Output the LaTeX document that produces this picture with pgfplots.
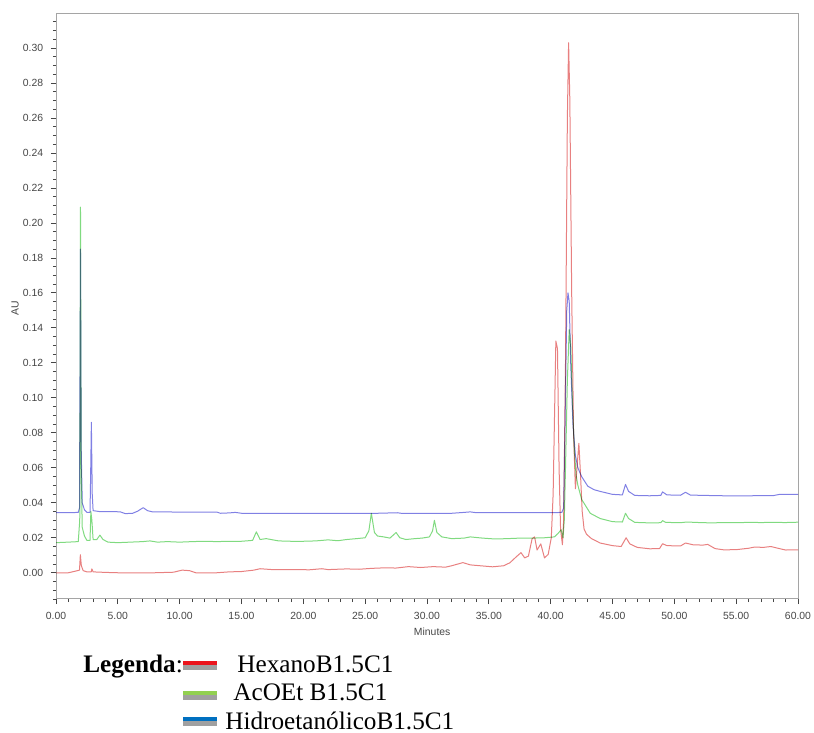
\documentclass[border=0pt]{standalone}
\usepackage{fontspec}
\setmainfont{Liberation Serif}
\newfontfamily\axisfont{Liberation Sans}
\usepackage{pgfplots}
\pgfplotsset{compat=1.18}

\definecolor{trHex}{RGB}{232,128,128}
\definecolor{trAce}{RGB}{128,218,128}
\definecolor{trHid}{RGB}{128,128,228}
\definecolor{legRed}{RGB}{235,20,28}
\definecolor{legGreen}{RGB}{146,208,80}
\definecolor{legBlue}{RGB}{0,112,192}
\definecolor{legGray}{RGB}{160,160,160}
\definecolor{frame}{RGB}{165,165,165}
\definecolor{ticktext}{RGB}{70,70,70}

\begin{document}
\begin{tikzpicture}
\useasboundingbox (0,0) rectangle (407pt,366.5pt);
\begin{axis}[
  at={(28pt,67pt)}, anchor=south west,
  scale only axis, width=371pt, height=292.5pt,
  xmin=0, xmax=60, ymin=-0.015, ymax=0.3194,
  xtick={0,5,10,15,20,25,30,35,40,45,50,55,60},
  ytick={0,0.02,0.04,0.06,0.08,0.10,0.12,0.14,0.16,0.18,0.20,0.22,0.24,0.26,0.28,0.30},
  minor xtick={0,1,...,60},
  minor ytick={-0.015,-0.01,...,0.316},
  xtick pos=bottom, ytick pos=left,
  tick align=outside,
  major tick length=2.6pt, minor tick length=1.6pt,
  axis line style={frame, line width=0.5pt},
  every tick/.style={ticktext, line width=0.35pt},
  tick label style={font=\axisfont\fontsize{5.2}{6}\selectfont, text=ticktext},
  xticklabel style={yshift=-0.6pt},
  yticklabel style={xshift=-0.3pt},
  scaled y ticks=false,
  /pgf/number format/.cd, fixed, fixed zerofill, precision=2, assume math mode=true,
  /pgfplots/.cd,
  xlabel={Minutes}, ylabel={AU},
  xlabel style={at={(axis description cs:0.507,-0.056)}, anchor=center,
    font=\axisfont\fontsize{5.2}{6}\selectfont, text=ticktext},
  ylabel style={at={(axis description cs:-0.055,0.497)}, anchor=center,
    font=\axisfont\fontsize{5.2}{6}\selectfont, text=ticktext},
  every axis plot/.append style={line width=0.5pt, line join=round, blend mode=multiply},
]
% HidroetanolicoB1.5C1
\addplot[trHid] coordinates {
(0,0.0343) (1.0,0.0343) (1.8,0.0345) (1.9,0.037) (1.98,0.185) (2.04,0.07) (2.12,0.04)
(2.3,0.036) (2.5,0.0345) (2.75,0.0345) (2.8,0.055) (2.86,0.086) (2.93,0.045) (3.0,0.0355)
(3.5,0.035) (4.5,0.035) (5.2,0.0348) (5.6,0.0338) (6.2,0.034) (6.6,0.0352) (7.05,0.0372)
(7.4,0.0355) (7.8,0.0348) (9,0.0348) (10,0.0346) (11,0.0347) (12,0.0347) (13,0.0347)
(13.3,0.034) (14,0.0342) (14.5,0.0345) (15,0.034) (16,0.0339) (18,0.034) (20,0.034)
(22,0.0339) (24,0.0339) (26,0.034) (27.6,0.0343) (28,0.0339) (30,0.0339) (32,0.034)
(33.0,0.0345) (33.5,0.0348) (34,0.0343) (36,0.0343) (38,0.0343) (40,0.0343) (40.9,0.0345)
(41.05,0.037) (41.15,0.08) (41.3,0.15) (41.4,0.16) (41.5,0.155) (41.62,0.12) (41.8,0.085)
(42.0,0.067) (42.2,0.06) (42.5,0.055) (43,0.0495) (43.5,0.0475) (44,0.0465) (45,0.0448)
(45.8,0.0445) (46.05,0.0505) (46.3,0.0465) (46.8,0.0442) (48,0.044) (48.9,0.0442)
(49.05,0.0462) (49.4,0.0445) (50.5,0.0443) (50.9,0.046) (51.3,0.0444) (52.5,0.0442)
(54,0.044) (56,0.044) (58,0.0441) (58.5,0.0448) (60,0.0448)
};
% AcOEt B1.5C1
\addplot[trAce] coordinates {
(0,0.0172) (1.0,0.0175) (1.8,0.0178) (1.92,0.03) (1.98,0.209) (2.04,0.06) (2.12,0.026)
(2.3,0.021) (2.5,0.0185) (2.75,0.0185) (2.82,0.035) (2.9,0.03) (3.0,0.019) (3.3,0.019)
(3.55,0.0215) (3.8,0.019) (4.2,0.0175) (5,0.0172) (6,0.0175) (7,0.0178) (7.6,0.0182)
(8.2,0.0175) (9,0.0178) (10,0.0175) (11,0.0178) (12,0.018) (13,0.0178) (14,0.018)
(15,0.018) (15.9,0.0185) (16.2,0.0234) (16.5,0.019) (17,0.0195) (18,0.0182) (19,0.018)
(20,0.018) (21,0.0182) (22,0.0188) (22.8,0.0183) (23.5,0.019) (24.3,0.0195) (25,0.02)
(25.3,0.024) (25.5,0.034) (25.75,0.023) (26,0.021) (26.5,0.0205) (27,0.0198) (27.5,0.023)
(27.8,0.02) (28.3,0.019) (29,0.0195) (29.6,0.0198) (30.2,0.0205) (30.45,0.024) (30.6,0.030)
(30.8,0.023) (31.2,0.0205) (32,0.0195) (33,0.0198) (33.5,0.0205) (34.5,0.0198) (35.5,0.0193)
(36.5,0.0195) (37.5,0.0198) (38.5,0.0198) (39.5,0.02) (40.3,0.0205) (40.6,0.0225)
(40.85,0.0246) (41.0,0.02) (41.1,0.03) (41.2,0.06) (41.35,0.11) (41.5,0.139) (41.62,0.13)
(41.75,0.10) (41.9,0.072) (42.05,0.056) (42.2,0.05) (42.5,0.042) (43.2,0.034) (44,0.031)
(45,0.0292) (45.8,0.029) (46.05,0.034) (46.3,0.031) (46.8,0.0288) (48,0.0285) (48.9,0.0286)
(49.05,0.0298) (49.3,0.0288) (50.5,0.0286) (51,0.029) (52,0.0287) (53,0.0285) (54,0.0287)
(55,0.0286) (56,0.0288) (57,0.0287) (58,0.0288) (59,0.0287) (60,0.0289)
};
% HexanoB1.5C1
\addplot[trHex] coordinates {
(0,0.0) (1.0,0.0) (1.5,0.0008) (1.9,0.0015) (1.97,0.0103) (2.05,0.004) (2.2,0.0012)
(2.5,0.0005) (2.85,0.0005) (2.9,0.0022) (3.0,0.0005) (4,0.0002) (5,0.0) (7,0.0) (8,0.0)
(9.5,0.0003) (10.2,0.0015) (10.8,0.0012) (11.3,0.0) (13,0.0) (14,0.0005) (15,0.0007)
(16,0.0015) (16.5,0.0023) (17.5,0.0018) (19,0.0018) (20.5,0.0017) (21.5,0.0023) (22,0.0018)
(23.5,0.0022) (24.5,0.002) (25.5,0.0025) (26.5,0.0028) (27.5,0.0027) (28.5,0.0035)
(29.5,0.003) (30.5,0.0035) (31.5,0.0032) (32,0.004) (32.9,0.0058) (33.5,0.0045) (34.3,0.004)
(35.3,0.0034) (36.2,0.004) (36.7,0.0057) (37.2,0.009) (37.6,0.0115) (37.9,0.0085)
(38.2,0.0095) (38.5,0.0195) (38.7,0.0205) (38.9,0.013) (39.2,0.0165) (39.5,0.0085)
(39.8,0.0105) (40.05,0.02) (40.2,0.045) (40.3,0.085) (40.42,0.1325) (40.55,0.128)
(40.68,0.06) (40.8,0.025) (40.95,0.016) (41.05,0.03) (41.2,0.12) (41.35,0.26) (41.45,0.303)
(41.55,0.27) (41.7,0.16) (41.85,0.08) (42.0,0.048) (42.15,0.062) (42.28,0.074) (42.4,0.058)
(42.55,0.035) (42.7,0.025) (42.9,0.022) (43.3,0.0195) (44,0.017) (45,0.0155) (45.7,0.015)
(46.1,0.020) (46.4,0.0165) (47,0.0145) (48,0.0137) (48.8,0.0138) (49.05,0.0166)
(49.4,0.0155) (50.5,0.0153) (50.9,0.017) (51.5,0.016) (52.3,0.0158) (52.7,0.0162)
(53.3,0.0138) (54,0.0131) (55,0.0132) (56,0.014) (56.5,0.0147) (57.2,0.0145) (57.8,0.015)
(58.5,0.0138) (59,0.013) (60,0.0131)
};
\end{axis}

% Legend below the chart
\node[anchor=base west, inner sep=0, font=\fontsize{12.6}{14}\selectfont]
  at (41.5pt,30.3pt) {\textbf{Legenda}:};
\fill[legRed]   (91.5pt,34pt)   rectangle (108.5pt,36.2pt);
\fill[legGray]  (91.5pt,31.5pt) rectangle (108.5pt,34pt);
\node[anchor=base west, inner sep=0, font=\fontsize{12.6}{14}\selectfont]
  at (118.5pt,30.3pt) {HexanoB1.5C1};
\fill[legGreen] (91.5pt,19pt)   rectangle (108.5pt,21.2pt);
\fill[legGray]  (91.5pt,16.5pt) rectangle (108.5pt,19pt);
\node[anchor=base west, inner sep=0, font=\fontsize{12.6}{14}\selectfont]
  at (116.5pt,16pt) {AcOEt B1.5C1};
\fill[legBlue]  (91.5pt,6pt)    rectangle (108.5pt,8.2pt);
\fill[legGray]  (91.5pt,3.5pt)  rectangle (108.5pt,6pt);
\node[anchor=base west, inner sep=0, font=\fontsize{12.6}{14}\selectfont]
  at (112.5pt,1.8pt) {HidroetanólicoB1.5C1};
\end{tikzpicture}
\end{document}
